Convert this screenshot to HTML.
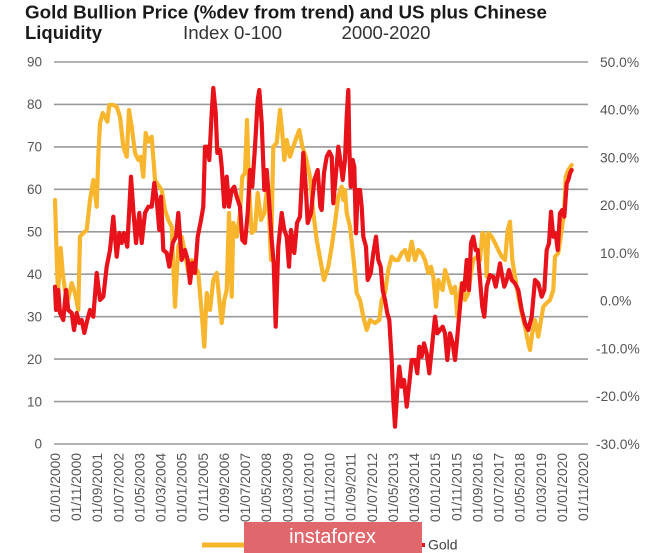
<!DOCTYPE html>
<html><head><meta charset="utf-8"><style>
html,body{margin:0;padding:0;background:#fff;}
svg{display:block;}
text{font-family:"Liberation Sans",Arial,sans-serif;}
</style></head><body>
<svg width="665" height="553" viewBox="0 0 665 553" xmlns="http://www.w3.org/2000/svg">
<rect width="665" height="553" fill="#fff"/>
<!-- Title -->
<text x="25" y="18.5" font-size="18" font-weight="bold" fill="#1a1a1a" textLength="522" lengthAdjust="spacingAndGlyphs">Gold Bullion Price (%dev from trend) and US plus Chinese</text>
<text x="25" y="39" font-size="18" font-weight="bold" fill="#1a1a1a" textLength="77" lengthAdjust="spacingAndGlyphs">Liquidity</text>
<text x="183" y="39" font-size="18.5" fill="#333" textLength="99" lengthAdjust="spacingAndGlyphs">Index 0-100</text>
<text x="341.5" y="39" font-size="18.5" fill="#333" textLength="89" lengthAdjust="spacingAndGlyphs">2000-2020</text>
<!-- gridlines -->
<g stroke="#9a9a9a" stroke-width="1.6">
<line x1="54" y1="62" x2="588" y2="62"/>
<line x1="54" y1="104.4" x2="588" y2="104.4"/>
<line x1="54" y1="146.9" x2="588" y2="146.9"/>
<line x1="54" y1="189.3" x2="588" y2="189.3"/>
<line x1="54" y1="231.8" x2="588" y2="231.8"/>
<line x1="54" y1="274.2" x2="588" y2="274.2"/>
<line x1="54" y1="316.7" x2="588" y2="316.7"/>
<line x1="54" y1="359.1" x2="588" y2="359.1"/>
<line x1="54" y1="401.6" x2="588" y2="401.6"/>
<line x1="54" y1="444" x2="588" y2="444"/>
</g>
<!-- left labels -->
<g font-size="13.5" fill="#555" text-anchor="end">
<text x="42" y="66.7">90</text>
<text x="42" y="109.1">80</text>
<text x="42" y="151.6">70</text>
<text x="42" y="194">60</text>
<text x="42" y="236.5">50</text>
<text x="42" y="278.9">40</text>
<text x="42" y="321.4">30</text>
<text x="42" y="363.8">20</text>
<text x="42" y="406.3">10</text>
<text x="42" y="448.7">0</text>
</g>
<!-- right labels -->
<g font-size="13.8" fill="#555">
<text x="600" y="66.8">50.0%</text>
<text x="600" y="114.5">40.0%</text>
<text x="600" y="162.3">30.0%</text>
<text x="600" y="210">20.0%</text>
<text x="600" y="257.8">10.0%</text>
<text x="600" y="305.5">0.0%</text>
<text x="596" y="353.3">-10.0%</text>
<text x="596" y="401">-20.0%</text>
<text x="596" y="448.8">-30.0%</text>
</g>
<!-- x labels -->
<g font-size="13.8" fill="#555" text-anchor="end">
<text transform="translate(60,453) rotate(-90)">01/01/2000</text>
<text transform="translate(81.1,453) rotate(-90)">01/11/2000</text>
<text transform="translate(102.2,453) rotate(-90)">01/09/2001</text>
<text transform="translate(123.4,453) rotate(-90)">01/07/2002</text>
<text transform="translate(144.5,453) rotate(-90)">01/05/2003</text>
<text transform="translate(165.6,453) rotate(-90)">01/03/2004</text>
<text transform="translate(186.7,453) rotate(-90)">01/01/2005</text>
<text transform="translate(207.8,453) rotate(-90)">01/11/2005</text>
<text transform="translate(229,453) rotate(-90)">01/09/2006</text>
<text transform="translate(250.1,453) rotate(-90)">01/07/2007</text>
<text transform="translate(271.2,453) rotate(-90)">01/05/2008</text>
<text transform="translate(292.3,453) rotate(-90)">01/03/2009</text>
<text transform="translate(313.4,453) rotate(-90)">01/01/2010</text>
<text transform="translate(334.6,453) rotate(-90)">01/11/2010</text>
<text transform="translate(355.7,453) rotate(-90)">01/09/2011</text>
<text transform="translate(376.8,453) rotate(-90)">01/07/2012</text>
<text transform="translate(397.9,453) rotate(-90)">01/05/2013</text>
<text transform="translate(419,453) rotate(-90)">01/03/2014</text>
<text transform="translate(440.2,453) rotate(-90)">01/01/2015</text>
<text transform="translate(461.3,453) rotate(-90)">01/11/2015</text>
<text transform="translate(482.4,453) rotate(-90)">01/09/2016</text>
<text transform="translate(503.5,453) rotate(-90)">01/07/2017</text>
<text transform="translate(524.6,453) rotate(-90)">01/05/2018</text>
<text transform="translate(545.8,453) rotate(-90)">01/03/2019</text>
<text transform="translate(566.9,453) rotate(-90)">01/01/2020</text>
<text transform="translate(588,453) rotate(-90)">01/11/2020</text>
</g>
<!-- liquidity (yellow) -->
<polyline fill="none" stroke="#F8B62F" stroke-width="4.2" stroke-linejoin="round" stroke-linecap="round" points="55,200 56.7,256.7 58,293 60.7,248 62.7,273 65,290 68,300 71.7,283 75,293 78.3,310 80,236.7 83.3,233 86.7,230 90,200 93.3,180 96.7,206.7 98.3,156.7 100,123 102.7,113 105,116.7 107.3,121.7 109.3,105 113.3,105 116.7,106.7 120,116.7 123.3,146.7 126.7,156.7 129,110 131.7,126.7 135,153 138.3,160 140.7,156.7 143.3,176.7 145.7,133 148.3,141.7 151.7,136.7 155,180 158.3,185 161.7,190 165,210 168.3,220 171.7,226.7 175,306.7 178.3,246.7 181.7,236.7 185,253 188.3,273 191.7,260 195,266.7 198.3,273 201.7,313 204.3,346.7 206.7,293 210,310 213.3,280 216.7,273 220,306.7 221.7,323 224.3,300 226.7,290 229,213 231.7,296.7 233.3,223 236.7,236.7 240,213 242.3,176.7 245,173 247,120 249,186.7 251.7,233 255,230 257.7,193 261,220 264.3,213 267.7,183 271,260 273.3,146.7 276.7,143 280,110 282.3,133 284.3,160 286.7,140 290,156.7 293.3,146.7 296.7,136.7 299.3,130 302.3,146.7 305.7,156.7 310,176.7 313.3,213 316.7,240 320,258 324,280 328.3,266.7 331.7,246.7 335,223 338.3,196.7 341.7,186.7 343.3,200 345,190 346.7,213 350,226.7 353.3,256.7 356.7,293 360,300 363.3,316.7 366.7,330 370,320 375,323 379.3,320 381.7,300 385,293 388.3,270 391.7,256.7 395,260 398.3,260 401.7,253 405,250 408.3,260 411.7,241.7 415,260 418.3,250 421.7,253 425,260 428.3,273 431,266.7 433.3,276.7 436,306.7 438.3,280 440.7,286.7 442.7,290 445,270 448.3,280 451.7,293 455,286.7 457.3,316.7 460,293 461.7,283 465,300 468.3,293 471,273 473.3,260 476.7,256.7 480,260 482.3,233 485,236.7 486.7,276.7 488.3,233 491.7,236.7 495,243 498.3,250 501.7,256.7 505,260 507.7,230 510,221.7 512.3,260 515,276.7 518.3,296.7 521.7,313 525,326.7 528.3,343 530,350 532.3,333 535,320 538.3,336.7 541,320 543.3,306.7 546.7,303 550,300 553.3,290 555,256.7 558.3,253 561.7,230 564.3,210 565.7,176.7 568.3,170 571.7,165"/>
<!-- gold (red) -->
<polyline fill="none" stroke="#E8121B" stroke-width="4.2" stroke-linejoin="round" stroke-linecap="round" points="55,286.7 56,310 58.3,290 60,313 63.3,320 66,290 68.3,310 71.7,313 74,330 76.7,313 79.3,323 81.7,320 84.3,333 87.3,320 90,310 93.3,316.7 96.7,273 100,300 103.3,296.7 106.7,266.7 110,250 113.3,216.7 116.7,256.7 119.3,233 121.7,243 124,233 127.3,246.7 131,176.7 133.3,210 136,243 139.3,213 141.7,243 145,213 148.3,206.7 151.7,206.7 154.3,183 156.7,200 159.3,230 161,196.7 163.3,250 166.7,253 169.3,266.7 172.7,243 176,236.7 178.3,213 181.7,260 185,250 187.7,260 190,283 192.3,263 195,273 197.7,236.7 201,220 203.3,206.7 205,146.7 207.7,146.7 209.3,160 211.7,113 213.3,88 215.7,113 217.3,153 220,150 221.7,166.7 224.3,206.7 226.7,176.7 229,206.7 231.7,190 234.3,186.7 236.7,196.7 240,206.7 242.3,240 245,243 247.7,213 250,170 252.3,186.7 255,146.7 257.7,100 259.3,90 261.7,123 264.3,190 266.7,170 269,200 271.7,240 273.7,263 275.7,326.7 278.3,246.7 281.7,213 284.3,230 286.7,236.7 289,266.7 291,230 294.3,253 297,223 300,216.7 303.3,153 305.7,186.7 307.7,223 311,213 314.3,180 317.7,170 320.3,206.7 321.7,210 324,173 326.7,156.7 329.3,151.7 331.7,156.7 333.3,203.3 336,173 338.3,146.7 340.7,163.3 342.7,180 345,160 346.7,116.7 348.3,90 349.3,146.7 350.7,186.7 352.7,160 354.3,166.7 356,233.3 357.7,190 360,190 361.7,206.7 363.3,236.7 366,246.7 367.7,280 370.7,273.3 373.3,253.3 376,236.7 378.3,260 380.7,266.7 382.7,290 385,300 387.3,313.3 389.3,320 391.7,360 393.3,400 395,426.7 397.3,390 399.3,366.7 401.7,386.7 404,380 406.7,406.7 409.3,383.3 411.7,360 415,360 417.3,373.3 419.3,346.7 421.7,356.7 424,343.3 426.7,353.3 429.3,373.3 432,346.7 435,316.7 437.3,333.3 440,330 442.7,326.7 445,333.3 447.3,360 450,333.3 452.7,343.3 455,360 457,340 460,306.7 462.3,283.3 464.3,290 466.7,260 469,290 471,243.3 473.3,236.7 475.7,250 477.7,250 480,280 482.3,306.7 484.3,316.7 486.7,286.7 490,275 493.3,276.7 495.7,286.7 498.3,273.3 500,263.3 502.3,276.7 504.3,286.7 506.7,280 509,270 511.7,280 515,283.3 518.3,290 521.7,310 525,323.3 528.3,330 531.7,316.7 535,280 538.3,283.3 541.7,296.7 544.3,290 546.7,250 549,243.3 551,211.7 553.3,236.7 555.7,233.3 557.7,250 560,213.3 562.3,210 564.3,216.7 566.7,183.3 568.3,180 570,173.3 571.7,170"/>
<!-- legend -->
<line x1="202" y1="545" x2="246" y2="545" stroke="#F8B62F" stroke-width="5"/>
<rect x="422" y="543" width="3" height="4" fill="#E8121B"/>
<text x="428" y="549.5" font-size="14" fill="#404040">Gold</text>
<!-- watermark -->
<rect x="244" y="522" width="178" height="31" fill="#E0686D"/>
<text x="332.5" y="543" font-size="20" fill="#fff" text-anchor="middle">instaforex</text>
</svg>
</body></html>
